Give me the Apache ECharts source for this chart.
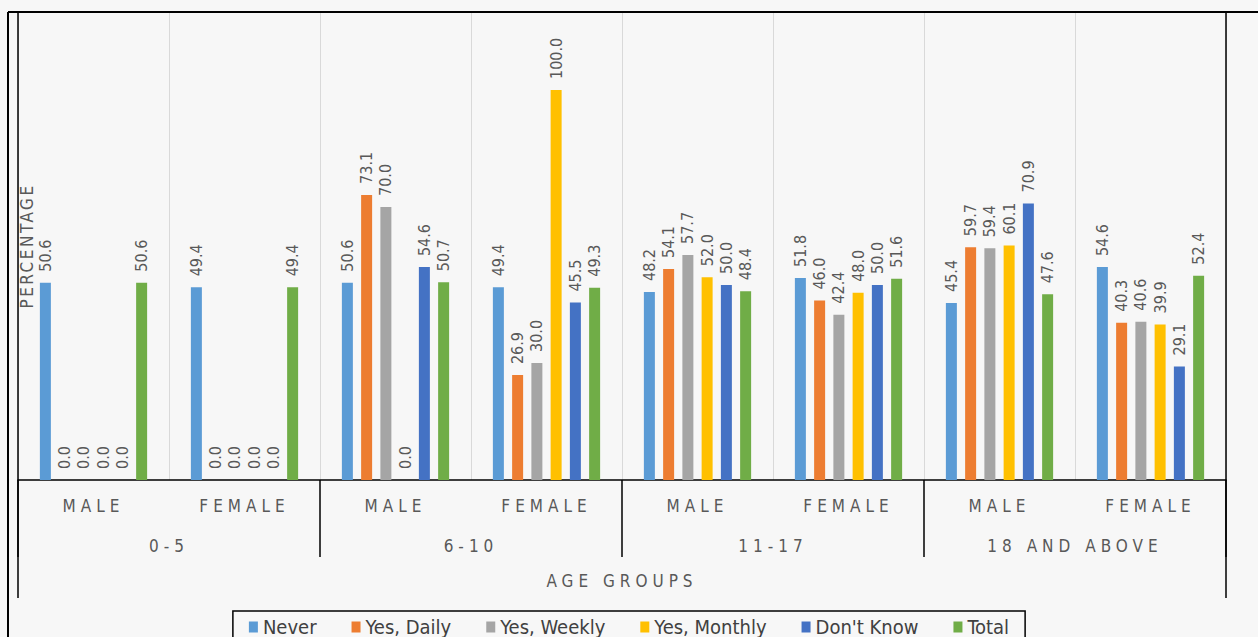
<!DOCTYPE html>
<html><head><meta charset="utf-8">
<script src="https://cdn.jsdelivr.net/npm/echarts@6/dist/echarts.min.js"></script>
<style>html,body{margin:0;padding:0;background:#f7f7f7}#c{width:1258px;height:637px}</style>
</head><body><div id="c"></div>
<script>
const categories = ['MALE','FEMALE','MALE','FEMALE','MALE','FEMALE','MALE','FEMALE'];
const ageGroups = ['0-5','6-10','11-17','18 AND ABOVE'];
const seriesNames = ['Never','Yes, Daily','Yes, Weekly','Yes, Monthly',"Don't Know",'Total'];
const never      = [50.6, 49.4, 50.6, 49.4, 48.2, 51.8, 45.4, 54.6];
const yesDaily   = [0.0, 0.0, 73.1, 26.9, 54.1, 46.0, 59.7, 40.3];
const yesWeekly  = [0.0, 0.0, 70.0, 30.0, 57.7, 42.4, 59.4, 40.6];
const yesMonthly = [0.0, 0.0, 0.0, 100.0, 52.0, 48.0, 60.1, 39.9];
const dontKnow   = [0.0, 0.0, 54.6, 45.5, 50.0, 50.0, 70.9, 29.1];
const total      = [50.6, 49.4, 50.7, 49.3, 48.4, 51.6, 47.6, 52.4];
const seriesData = [never, yesDaily, yesWeekly, yesMonthly, dontKnow, total];
const colors = ['#5B9BD5','#ED7D31','#A5A5A5','#FFC000','#4472C4','#70AD47'];
const FONT = "'DejaVu Sans Condensed','Liberation Sans Narrow','DejaVu Sans',sans-serif";
const TXT = '#595959';

const chart = echarts.init(document.getElementById('c'), null, {renderer: 'svg'});
chart.setOption({
  animation: false,
  backgroundColor: '#f7f7f7',
  grid: {left: 18, right: 32, top: 12, bottom: 157, containLabel: false},
  xAxis: [{
    type: 'category', data: categories, position: 'bottom',
    axisLine: {show: true, lineStyle: {color: '#000', width: 1.5}},
    axisTick: {show: false},
    splitLine: {show: true, interval: 0, lineStyle: {color: '#d9d9d9', width: 1}},
    axisLabel: {interval: 0, margin: 17, color: TXT, fontSize: 17, fontFamily: FONT},
    name: 'AGE GROUPS', nameLocation: 'middle', nameGap: 92,
    nameTextStyle: {color: TXT, fontSize: 17, fontFamily: FONT}
  }, {
    type: 'category', data: ageGroups, position: 'bottom', gridIndex: 0,
    axisLine: {show: false},
    axisTick: {show: true, interval: 0, length: 77, lineStyle: {color: '#000', width: 1.5}},
    axisLabel: {interval: 0, margin: 57, color: TXT, fontSize: 17, fontFamily: FONT}
  }],
  yAxis: {
    type: 'value', min: 0, max: 120,
    axisLine: {show: false}, axisTick: {show: false}, axisLabel: {show: false}, splitLine: {show: false},
    name: 'PERCENTAGE', nameLocation: 'middle', nameRotate: 90, nameGap: -17,
    nameTextStyle: {color: TXT, fontSize: 17, fontFamily: FONT}
  },
  legend: {
    data: seriesNames, top: 611, left: 'center', icon: 'rect',
    itemWidth: 9, itemHeight: 11, itemGap: 35,
    borderColor: '#000', borderWidth: 1.5, padding: [6, 16, 12, 16],
    textStyle: {color: '#404040', fontSize: 20, fontFamily: FONT}
  },
  graphic: [
    {type: 'line', z: 100, shape: {x1: 8, y1: 12, x2: 1258, y2: 12}, style: {stroke: '#000', lineWidth: 2}},
    {type: 'line', z: 100, shape: {x1: 8, y1: 12, x2: 8, y2: 637}, style: {stroke: '#000', lineWidth: 2}},
    {type: 'line', z: 100, shape: {x1: 18, y1: 12, x2: 18, y2: 598}, style: {stroke: '#000', lineWidth: 1.5}},
    {type: 'line', z: 100, shape: {x1: 1226, y1: 12, x2: 1226, y2: 598}, style: {stroke: '#000', lineWidth: 1.5}}
  ],
  series: seriesNames.map((n, i) => ({
    name: n, type: 'bar', xAxisIndex: 0, data: seriesData[i],
    barWidth: 11, barGap: '75%',
    itemStyle: {color: colors[i]},
    label: {show: true, position: 'top', rotate: 90, align: 'left', verticalAlign: 'middle',
      distance: 11, formatter: p => p.value.toFixed(1), color: TXT, fontSize: 16, fontFamily: FONT}
  }))
});

const spaced = new Set(['MALE','FEMALE','AGE GROUPS'].concat(ageGroups));
function spaceOut() {
  document.querySelectorAll('#c svg text').forEach(t => {
    if (spaced.has(t.textContent)) t.style.letterSpacing = '5px';
    else if (t.textContent === 'PERCENTAGE') t.style.letterSpacing = '2.5px';
  });
}
chart.on('finished', spaceOut);
setTimeout(spaceOut, 50);
</script></body></html>
